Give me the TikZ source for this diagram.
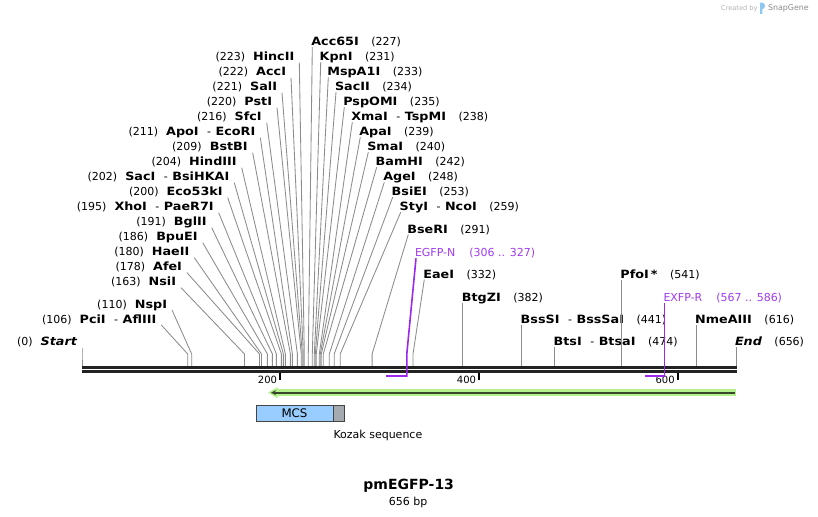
\documentclass[tikz,border=0pt]{standalone}
\usepackage{fontspec}
\setmainfont{DejaVu Sans}
\newfontfamily\enzfam{DejaVu Sans}[FakeStretch=1.12]
\usetikzlibrary{calc,arrows.meta}
\definecolor{cutline}{RGB}{140,140,140}
\definecolor{primer}{RGB}{155,40,235}
\definecolor{primertxt}{RGB}{160,60,240}
\definecolor{featgreen}{RGB}{180,240,140}
\definecolor{featdark}{RGB}{55,70,45}
\definecolor{mcsblue}{RGB}{153,204,255}
\definecolor{kozakgray}{RGB}{165,170,176}
\definecolor{boxline}{RGB}{68,68,68}
\definecolor{backbone}{RGB}{34,34,34}
\definecolor{logoblue}{RGB}{140,200,240}
\newcommand\enzf{\enzfam\bfseries\fontsize{11.4}{13}\selectfont}
\newcommand\numf{\normalfont\fontsize{11}{13}\selectfont}
\newcommand\tickf{\normalfont\fontsize{10}{12}\selectfont}
\newcommand\dsh{{\numf\hspace{8.5pt}-\hspace{4.5pt}}}
\newcommand\lt[2]{{\numf(#1)}\hspace{8pt}{\enzf #2}}
\newcommand\rt[2]{{\enzf #1}\hspace{12.5pt}{\numf(#2)}}
\newcommand\lsite[5]{%
  \node[lbl,anchor=base east] (#1) at (#2+1,#3+4.2) {#5};
  \coordinate (#1m) at (#4,354);
  \coordinate (#1b) at (#4,366);
  \draw[cut] ($(#1.base east)+(5,1.8)$) -- (#1m) -- (#1b);}
\newcommand\rsite[5]{%
  \node[lbl,anchor=base west] (#1) at (#2-1,#3+4.2) {#5};
  \coordinate (#1m) at (#4,354);
  \coordinate (#1b) at (#4,366);
  \draw[cut] ($(#1.base west)+(1,1.3)$) -- (#1m) -- (#1b);}
\begin{document}
\begin{tikzpicture}[x=1pt,y=-1pt,
  lbl/.style={inner sep=0pt,outer sep=0pt,font=\numf},
  cut/.style={draw=cutline,line width=0.85pt},
  primerline/.style={draw=primer,line width=1.6pt,line join=miter},
  tickmark/.style={draw=black,line width=2pt}]
\useasboundingbox[fill=white] (0,0) rectangle (818,516);

% watermark
\node[lbl,anchor=base east,text=black!30,font=\normalfont\fontsize{6.6}{8}\selectfont] (created) at (757.5,10.5) {Created by};
\fill[logoblue] (760,2.7) -- (762.3,2.7) .. controls (765.8,2.7) and (765.8,9.2) .. (762.3,9.2) -- (762.3,14) -- (760,14) -- cycle;
\node[lbl,anchor=base west,text=black!45,font=\normalfont\fontsize{7.9}{9}\selectfont] (snapgene) at (768,10.9) {SnapGene};

% left labels
\lsite{hincii}{293.3}{56.7}{304.3}{\lt{223}{HincII}}
\lsite{acci}{285}{71.7}{303.3}{\lt{222}{AccI}}
\lsite{sali}{276}{86.7}{302.3}{\lt{221}{SalI}}
\lsite{psti}{271}{101.7}{301.3}{\lt{220}{PstI}}
\lsite{sfci}{260.7}{116.7}{297.4}{\lt{216}{SfcI}}
\lsite{apoi}{254.3}{131.7}{292.4}{\lt{211}{ApoI\dsh EcoRI}}
\lsite{bstbi}{246.7}{146.7}{290.4}{\lt{209}{BstBI}}
\lsite{hindiii}{235.7}{161.7}{285.4}{\lt{204}{HindIII}}
\lsite{saci}{228.3}{176.7}{283.4}{\lt{202}{SacI\dsh BsiHKAI}}
\lsite{ecok}{221.7}{191.7}{281.4}{\lt{200}{Eco53kI}}
\lsite{xhoi}{212.7}{206.7}{276.4}{\lt{195}{XhoI\dsh PaeR7I}}
\lsite{bglii}{205.7}{221.7}{272.4}{\lt{191}{BglII}}
\lsite{bpuei}{196.7}{236.7}{267.4}{\lt{186}{BpuEI}}
\lsite{haeii}{188.3}{251.7}{261.5}{\lt{180}{HaeII}}
\lsite{afei}{181}{266.7}{259.5}{\lt{178}{AfeI}}
\lsite{nsii}{175}{281.7}{244.5}{\lt{163}{NsiI}}
\lsite{nspi}{166}{304}{191.7}{\lt{110}{NspI}}
\lsite{pcii}{155.3}{319}{187.7}{\lt{106}{PciI\dsh AflIII}}
\lsite{startsite}{76}{341.7}{82}{{\numf(0)}\hspace{8pt}{\enzf\itshape Start}}

% right labels
\rsite{acc}{312.3}{41.7}{308.3}{\rt{Acc65I}{227}}
\rsite{kpni}{320.7}{56.7}{312.3}{\rt{KpnI}{231}}
\rsite{mspa}{328.3}{71.7}{314.3}{\rt{MspA1I}{233}}
\rsite{sacii}{336}{86.7}{315.3}{\rt{SacII}{234}}
\rsite{pspomi}{344.3}{101.7}{316.3}{\rt{PspOMI}{235}}
\rsite{xmai}{352.3}{116.7}{319.3}{\rt{XmaI\dsh TspMI}{238}}
\rsite{apai}{360.3}{131.7}{320.3}{\rt{ApaI}{239}}
\rsite{smai}{368.3}{146.7}{321.3}{\rt{SmaI}{240}}
\rsite{bamhi}{376.7}{161.7}{323.3}{\rt{BamHI}{242}}
\rsite{agei}{384.3}{176.7}{329.3}{\rt{AgeI}{248}}
\rsite{bsiei}{392.7}{191.7}{334.2}{\rt{BsiEI}{253}}
\rsite{styi}{400.7}{206.7}{340.2}{\rt{StyI\dsh NcoI}{259}}
\rsite{bseri}{408.3}{229}{372.1}{\rt{BseRI}{291}}
\rsite{eaei}{424.3}{274}{413}{\rt{EaeI}{332}}
\rsite{btgzi}{462.9}{297}{462.9}{\rt{BtgZI}{382}}
\rsite{bsssi}{521.7}{319}{521.7}{\rt{BssSI\dsh BssSaI}{441}}
\rsite{btsi}{554.6}{341.7}{554.6}{\rt{BtsI\dsh BtsaI}{474}}
\rsite{pfoi}{621.4}{274}{621.4}{\rt{PfoI\hspace{2pt}*}{541}}
\rsite{nmeaiii}{696.2}{319}{696.2}{\rt{NmeAIII}{616}}
\rsite{endsite}{736}{341.7}{736}{{\enzf\itshape End}\hspace{12.5pt}{\numf(656)}}

% backbone
\coordinate (bbtl) at (82,367.5); \coordinate (bbtr) at (736.7,367.5);
\coordinate (bbbl) at (82,371.7); \coordinate (bbbr) at (736.7,371.7);
\draw[backbone,line width=3pt] (bbtl) -- (bbtr);
\draw[backbone,line width=2.6pt] (bbbl) -- (bbbr);

% ticks
\foreach \tx/\tl in {280/200,479/400,677.7/600}{
  \draw[tickmark] (\tx,372.5) -- (\tx,380);
  \node[lbl,anchor=base east,font=\tickf] at (\tx-3,383.3) {\tl};
}

% primers
\node[lbl,anchor=base west,text=primertxt] (egfpn) at (415,256.5) {EGFP-N\hspace{14pt}(306 .. 327)};
\coordinate (egfpnm) at (406.8,354);
\coordinate (egfpnb) at (406.8,376);
\coordinate (egfpnl) at (386,376);
\draw[primerline] ($(egfpn.base west)+(1,1.8)$) -- (egfpnm) -- (egfpnb) -- (egfpnl);
\node[lbl,anchor=base west,text=primertxt] (exfpr) at (663.5,301) {EXFP-R\hspace{14pt}(567 .. 586)};
\coordinate (exfprb) at (664.3,376);
\coordinate (exfprl) at (645,376);
\draw[primerline] (exfpr.base west -| exfprb) ++(0,2) -- (exfprb) -- (exfprl);

% feature arrow
\coordinate (fR) at (736,392.7);
\coordinate (fL) at (276,392.7);
\draw[featgreen,line width=6.5pt] (fR) -- (fL);
\fill[featgreen] (268,392.7) -- (277.5,387.2) -- (277.5,398.2) -- cycle;
\draw[featdark,line width=1.7pt,-{Stealth[length=5pt,width=5pt]}] (734.5,392.7) -- (271,392.7);

% MCS box
\draw[boxline,line width=1.2pt,fill=mcsblue] (256.7,405.3) rectangle (333.7,421.3);
\draw[boxline,line width=1.2pt,fill=kozakgray] (333.7,405.3) rectangle (344.7,421.3);
\node[lbl,anchor=base,font=\normalfont\fontsize{11.8}{14}\selectfont] (mcs) at (294.5,417) {MCS};
\node[lbl,anchor=base west] (kozak) at (333.5,438.5) {Kozak sequence};

% title
\node[lbl,anchor=base,font=\normalfont\bfseries\fontsize{14}{16}\selectfont] (title) at (408.7,489.5) {pmEGFP-13};
\node[lbl,anchor=base] (size) at (408.2,505) {656 bp};
\end{tikzpicture}
\end{document}
